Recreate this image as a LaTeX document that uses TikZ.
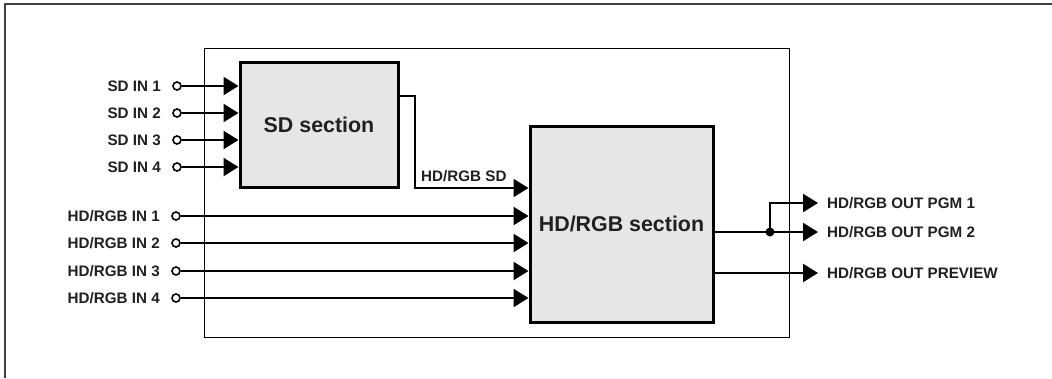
\documentclass[tikz,border=0pt]{standalone}
\usepackage{fontspec}
\setmainfont{Liberation Sans}
\usetikzlibrary{arrows.meta}
\definecolor{txt}{HTML}{231F20}
\definecolor{boxfill}{HTML}{E6E6E6}
\begin{document}
\begin{tikzpicture}[x=1pt,y=-1pt,
  section/.style={draw=black,line width=3pt,fill=boxfill,inner sep=0pt,
    font=\fontsize{21.4}{24}\selectfont\bfseries,text=txt},
  lbl/.style={inner sep=0pt,font=\fontsize{15.2}{18}\selectfont\bfseries,text=txt},
  port/.style={circle,draw=black,line width=1.6pt,fill=white,minimum size=8pt,inner sep=0pt},
  wire/.style={line width=2.3pt,-{Triangle[length=15pt,width=18pt]}},
  thinwire/.style={line width=1.6pt,-{Triangle[length=15pt,width=18pt]}},
  junction/.style={circle,fill=black,minimum size=9pt,inner sep=0pt}]
\path[use as bounding box] (0,0) rectangle (1052,378);
% outer frame (top and left edges)
\draw[line width=1.5pt,color=black!75] (1052,4) -- (5,4) -- (5,378);
% inner frame
\draw[line width=1pt] (204,48) rectangle (789,337);
% section boxes
\node[section,minimum width=158pt,minimum height=125pt] (sd) at (319,124.5) {SD section};
\node[section,minimum width=183pt,minimum height=196pt] (hd) at (621.5,224) {HD/RGB section};
% SD inputs
\foreach \i/\y in {1/86,2/113,3/140,4/167}{
  \node[port] (sdp\i) at (177,\y) {};
  \node[lbl,anchor=east] (sdl\i) at (161,\y) {SD IN \i};
  \draw[wire] (sdp\i.east) -- (sdp\i -| sd.west);
}
% HD inputs
\foreach \i/\y in {1/216,2/243,3/271,4/298}{
  \node[port] (hdp\i) at (176,\y) {};
  \node[lbl,anchor=east] (hdl\i) at (160,\y) {HD/RGB IN \i};
  \draw[wire] (hdp\i.east) -- (hdp\i -| hd.west);
}
% SD to HD link
\coordinate (sdo) at (sd.east |- 0,96);
\coordinate (bend1) at (415,96);
\coordinate (bend2) at (415,188);
\draw[thinwire] (sdo) -- (bend1) -- (bend2) -- (bend2 -| hd.west);
\node[lbl,anchor=south west] (sdlink) at (421,182) {HD/RGB SD};
% outputs
\coordinate (o1) at (818,203);
\coordinate (o2) at (818,232);
\coordinate (o3) at (818,273);
\node[junction] (jn) at (770,232) {};
\draw[wire] (hd.east |- o2) -- (o2);
\draw[wire] (jn.center) -- (jn.center |- o1) -- (o1);
\draw[wire] (hd.east |- o3) -- (o3);
\node[lbl,anchor=west] (ol1) at (827,203) {HD/RGB OUT PGM 1};
\node[lbl,anchor=west] (ol2) at (827,232) {HD/RGB OUT PGM 2};
\node[lbl,anchor=west] (ol3) at (827,273) {HD/RGB OUT PREVIEW};
\end{tikzpicture}
\end{document}
